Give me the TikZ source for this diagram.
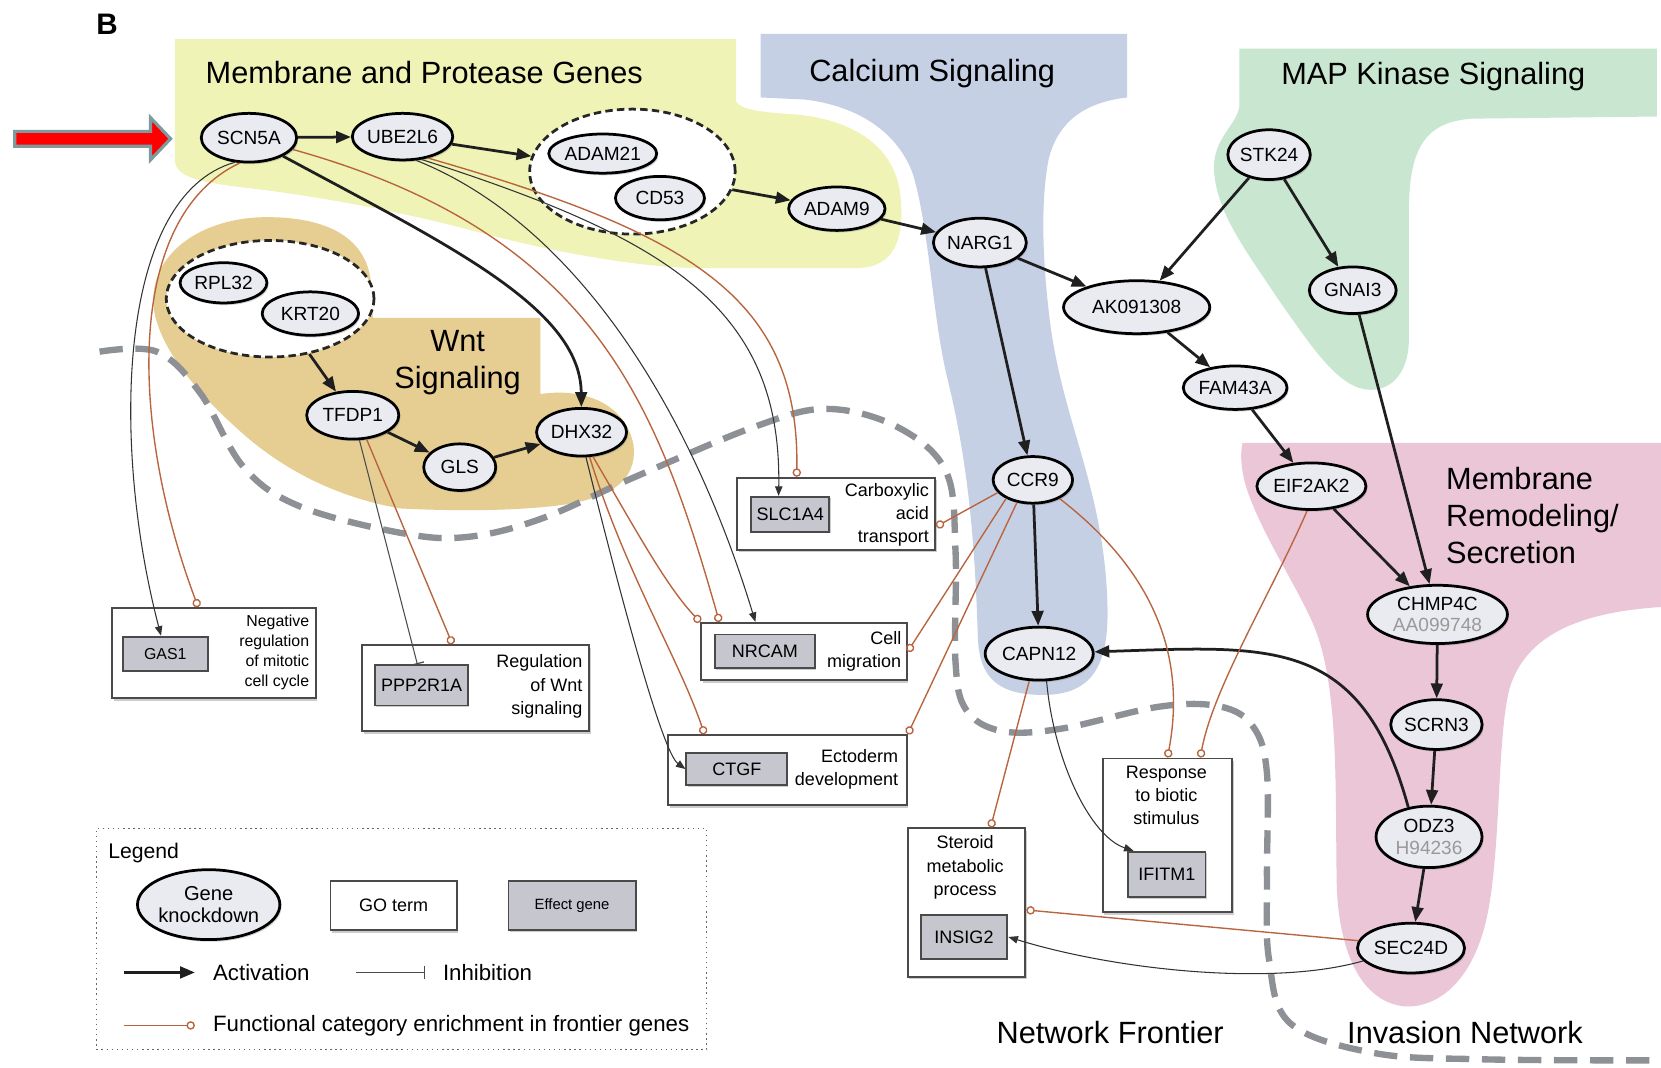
\documentclass[tikz,border=0pt]{standalone}
\usepackage{fontspec}
\setmainfont{Liberation Sans}
\usetikzlibrary{arrows.meta,shapes.geometric,shadows}
\definecolor{yellowreg}{HTML}{EFF3B6}
\definecolor{bluereg}{HTML}{C6D0E5}
\definecolor{greenreg}{HTML}{C9E6D0}
\definecolor{pinkreg}{HTML}{EBC6D6}
\definecolor{tanreg}{HTML}{E6CD92}
\definecolor{genefill}{HTML}{E9EBF1}
\definecolor{effgray}{HTML}{C5C6CE}
\definecolor{enrbrown}{HTML}{B9643F}
\definecolor{frontgray}{HTML}{8D9196}
\definecolor{arrowgray}{HTML}{7E9A9F}
\definecolor{boxline}{HTML}{4A4A4A}
\newcommand\genefont{\fontsize{18}{20}\selectfont}
\newcommand\regionfont{\fontsize{29}{35}\selectfont}
\newcommand\gofont{\fontsize{17}{22}\selectfont}
\newcommand\legfont{\fontsize{21}{24}\selectfont}
\begin{document}
\begin{tikzpicture}[x=1pt, y=-1pt,
  gene/.style 2 args={ellipse, draw=black, line width=2.6pt, fill=genefill, inner sep=0pt, align=center,
    minimum width=#1pt, minimum height=#2pt, font=\genefont,
    drop shadow={shadow xshift=1.5pt, shadow yshift=-2pt, opacity=.35}},
  group/.style 2 args={ellipse, draw=black!85, dash pattern=on 7pt off 4pt, line width=2.6pt, fill=white,
    minimum width=#1pt, minimum height=#2pt},
  effect/.style 2 args={rectangle, draw=boxline, line width=1.8pt, fill=effgray, inner sep=0pt,
    minimum width=#1pt, minimum height=#2pt, font=\gofont,
    drop shadow={shadow xshift=1pt, shadow yshift=-1.5pt, opacity=.4}},
  goterm/.style 2 args={rectangle, draw=boxline, line width=1.8pt, fill=white, inner sep=0pt,
    minimum width=#1pt, minimum height=#2pt,
    drop shadow={shadow xshift=1.5pt, shadow yshift=-2.5pt, opacity=.4}},
  gotext/.style={font=\gofont, inner sep=0pt},
  region/.style={font=\regionfont, inner sep=0pt},
  act/.style={draw=black!88, line width=2.6pt, -{Triangle[length=14pt, width=11pt]}},
  eff/.style={draw=black!80, line width=1pt, -{Triangle[length=9pt, width=7pt]}},
  inh/.style={draw=black!70, line width=1pt, -{Bar[width=13pt, line width=1.2pt]}},
  enr/.style={draw=enrbrown, line width=1.3pt, -{Circle[open, length=8pt, width=8pt, line width=1.3pt]}},
  frontier/.style={draw=frontgray, line width=6pt, dash pattern=on 22pt off 12pt}]

\fill[white] (0,0) rectangle (1568,1008);
\useasboundingbox (0,0) rectangle (1568,1008);

\fill[yellowreg] (165,37) -- (695,37) -- (695,96) .. controls (700,104) and (720,106) .. (750,108)
  .. controls (800,112) and (845,135) .. (850,185) .. controls (854,225) and (845,252) .. (810,253)
  -- (650,253) .. controls (580,250) and (500,232) .. (447,218) .. controls (380,200) and (300,185) .. (230,177)
  .. controls (190,172) and (165,168) .. (165,150) -- cycle;
\fill[bluereg] (718,32) -- (1064,32) -- (1064,92) .. controls (1030,96) and (1000,110) .. (990,150)
  .. controls (982,190) and (984,250) .. (992,310) .. controls (1005,400) and (1040,460) .. (1045,560)
  .. controls (1048,615) and (1040,656) .. (985,656) .. controls (942,656) and (924,640) .. (923,600)
  .. controls (920,500) and (912,430) .. (895,360) .. controls (880,300) and (878,220) .. (862,165)
  .. controls (848,125) and (810,100) .. (760,94) -- (718,92) -- cycle;
\fill[greenreg] (1170,46) -- (1564,46) -- (1564,110) -- (1390,112) .. controls (1345,115) and (1330,140) .. (1330,200)
  -- (1330,320) .. controls (1330,350) and (1315,368) .. (1294,368) .. controls (1265,368) and (1240,330) .. (1207,283)
  .. controls (1175,235) and (1148,200) .. (1146,160) .. controls (1145,130) and (1168,118) .. (1170,100) -- cycle;
\fill[pinkreg] (1173,418) -- (1568,418) -- (1568,573) .. controls (1490,578) and (1440,600) .. (1425,650)
  .. controls (1412,700) and (1418,820) .. (1400,880) .. controls (1385,930) and (1355,952) .. (1325,950)
  .. controls (1285,945) and (1265,900) .. (1262,840) .. controls (1260,750) and (1265,650) .. (1240,590)
  .. controls (1225,555) and (1195,510) .. (1180,470) .. controls (1172,450) and (1170,430) .. (1173,418) -- cycle;
\fill[tanreg] (145,290) .. controls (140,240) and (190,205) .. (252,205) .. controls (310,205) and (345,225) .. (350,265)
  -- (352,300) -- (510,300) -- (510,372) .. controls (550,366) and (590,380) .. (598,420)
  .. controls (602,455) and (575,472) .. (520,478) .. controls (470,483) and (420,482) .. (378,480)
  .. controls (320,470) and (270,445) .. (230,410) .. controls (190,375) and (150,330) .. (145,290) -- cycle;

\draw[frontier] plot[smooth, tension=.6] coordinates {(94,332) (148,332) (189,371) (230,441) (283,478) (378,503)
  (440,507) (510,490) (600,450) (712,403) (780,386) (847,403) (893,445) (902,520) (902,625) (912,670) (945,690)
  (1001,688) (1095,667) (1152,667) (1183,686) (1196,730) (1196,830) (1198,906) (1218,966) (1297,994) (1400,1000) (1568,1001)};

\node[font=\bfseries\fontsize{28}{30}\selectfont] (lblB) at (101,23) {B};
\filldraw[fill=red, draw=arrowgray, line width=3pt] (14,124) -- (142,124) -- (142,111) -- (161,131) -- (142,151) -- (142,138) -- (14,138) -- cycle;

\node[region, anchor=base west] (memprot) at (194,78.5) {Membrane and Protease Genes};
\node[region, anchor=base] (calcium) at (880,76.5) {Calcium Signaling};
\node[region, anchor=base] (mapk) at (1353,79.5) {MAP Kinase Signaling};
\node[region, align=center] (wnt) at (432,342) {Wnt\\Signaling};
\node[region, align=left, anchor=west] (memrem) at (1365,487) {Membrane\\Remodeling/\\Secretion};
\node[region, anchor=base] (frontlbl) at (1048,985.5) {Network Frontier};
\node[region, anchor=base] (invlbl) at (1383,985.5) {Invasion Network};

\node[goterm={192}{85}] (gasbox) at (202,616.5) {};
\node[effect={80}{32}, font=\fontsize{15}{18}\selectfont] (gas) at (156,617) {GAS1};
\node[gotext, font=\fontsize{15}{19}\selectfont, anchor=east, align=right] (gastx) at (292,616) {Negative\\regulation\\of mitotic\\cell cycle};
\node[goterm={214}{81}] (pppbox) at (449,649.5) {};
\node[effect={88}{38}] (ppp) at (398,647) {PPP2R1A};
\node[gotext, anchor=east, align=right] (ppptx) at (550,648) {Regulation\\of Wnt\\signaling};
\node[goterm={187}{68}] (slcbox) at (789.5,485) {};
\node[effect={74}{33}] (slc) at (746,485.5) {SLC1A4};
\node[gotext, anchor=east, align=right] (slctx) at (877,486) {Carboxylic\\acid\\transport};
\node[goterm={194}{54}] (nrbox) at (759,615) {};
\node[effect={94}{32}] (nrc) at (722,615) {NRCAM};
\node[gotext, anchor=east, align=right] (nrtx) at (851,615) {Cell\\migration};
\node[goterm={225}{66}] (ctbox) at (743.5,727) {};
\node[effect={95}{30}] (ctg) at (695.5,726) {CTGF};
\node[gotext, anchor=east, align=right] (cttx) at (848,726) {Ectoderm\\development};
\node[goterm={111}{140}] (stbox) at (912.5,852) {};
\node[effect={82}{41}] (ins) at (910,884.5) {INSIG2};
\node[gotext, align=center] (sttx) at (911,819) {Steroid\\metabolic\\process};
\node[goterm={122}{145}] (rsbox) at (1102,788.5) {};
\node[effect={73}{43}] (ifi) at (1101.5,825.5) {IFITM1};
\node[gotext, align=center] (rstx) at (1101,751) {Response\\to biotic\\stimulus};

\node[group={194}{118}] (grpA) at (597,162) {};
\node[group={196}{110}] (grpB) at (255,282) {};
\node[gene={90}{46}] (scn) at (235,130) {SCN5A};
\node[gene={93}{44}] (ube) at (380,129) {UBE2L6};
\node[gene={101}{37}] (adam21) at (569,145) {ADAM21};
\node[gene={84}{41}] (cd53) at (623,187) {CD53};
\node[gene={91}{41}] (adam9) at (790,197) {ADAM9};
\node[gene={87}{46}] (narg) at (925,229) {NARG1};
\node[gene={76}{47}] (stk) at (1198,146) {STK24};
\node[gene={138}{50}] (ak) at (1073,290) {AK091308};
\node[gene={82}{44}] (gnai) at (1277,274) {GNAI3};
\node[gene={98}{41}] (fam) at (1166,366) {FAM43A};
\node[gene={103}{44}] (eif) at (1238,459) {EIF2AK2};
\node[gene={132}{55}] (chmp) at (1357,580) {CHMP4C\\\textcolor{black!40}{AA099748}};
\node[gene={86}{47}] (scrn) at (1356,684) {SCRN3};
\node[gene={100}{58}] (odz) at (1349,790) {ODZ3\\\textcolor{black!40}{H94236}};
\node[gene={101}{47}] (sec) at (1332,895) {SEC24D};
\node[gene={75}{44}] (ccr) at (975,453) {CCR9};
\node[gene={102}{50}] (capn) at (981,617) {CAPN12};
\node[gene={82}{38}] (rpl) at (211,267) {RPL32};
\node[gene={91}{41}] (krt) at (293,296) {KRT20};
\node[gene={87}{45}] (tfdp) at (333,392) {TFDP1};
\node[gene={68}{44}] (gls) at (434,441) {GLS};
\node[gene={85}{45}] (dhx) at (549,408) {DHX32};

\draw[act] (scn) -- (ube);
\draw[act] (ube) -- (grpA);
\draw[act] (grpA) -- (adam9);
\draw[act] (adam9) -- (narg);
\draw[act] (narg) -- (ak);
\draw[act] (narg) -- (ccr);
\draw[act] (stk) -- (ak);
\draw[act] (stk) -- (gnai);
\draw[act] (ak) -- (fam);
\draw[act] (fam) -- (eif);
\draw[act] (eif) -- (chmp);
\draw[act] (gnai) -- (chmp);
\draw[act] (chmp) -- (scrn);
\draw[act] (scrn) -- (odz);
\draw[act] (odz) -- (sec);
\draw[act] (ccr) -- (capn);
\draw[act] (odz.125) .. controls (1285,600) and (1200,610) .. (capn);
\draw[act] (scn) .. controls (420,230) and (548,290) .. (dhx);
\draw[act] (grpB) -- (tfdp);
\draw[act] (tfdp) -- (gls);
\draw[act] (gls) -- (dhx);

\draw[eff] (scn.240) .. controls (110,185) and (105,420) .. ([xshift=-4pt]gas.north);
\draw[enr] (scn.250) .. controls (118,205) and (122,400) .. ([xshift=82pt]gasbox.north west);
\draw[eff] (ube.-60) .. controls (540,210) and (650,380) .. ([xshift=52pt]nrbox.north west);
\draw[enr] (scn.-15) .. controls (560,220) and (620,380) .. ([xshift=18pt]nrbox.north west);
\draw[eff] (ube.-50) .. controls (630,225) and (738,290) .. ([xshift=-11pt]slc.north);
\draw[enr] (ube.-40) .. controls (650,220) and (755,280) .. ([xshift=57pt]slcbox.north west);
\draw[inh] (tfdp.-75) -- ([xshift=-4pt]ppp.north);
\draw[enr] (tfdp.-60) -- ([xshift=86pt]pppbox.north west);
\draw[enr] (dhx.-65) .. controls (600,500) and (630,555) .. (nrbox.north west);
\draw[enr] (dhx.-72) .. controls (590,540) and (640,620) .. ([xshift=35pt]ctbox.north west);
\draw[eff] (dhx.-80) .. controls (585,560) and (625,710) .. (ctg.west);
\draw[enr] (ccr.200) -- ([yshift=-12pt]slcbox.east);
\draw[enr] (ccr.215) -- (nrbox.east);
\draw[enr] (ccr.235) -- (ctbox.north east);
\draw[enr] (ccr.-35) .. controls (1090,540) and (1120,620) .. ([xshift=62pt]rsbox.north west);
\draw[enr] (eif.-100) .. controls (1200,560) and (1145,650) .. ([xshift=93pt]rsbox.north west);
\draw[enr] (capn.-110) -- ([xshift=79pt]stbox.north west);
\draw[eff] (capn.-75) .. controls (995,720) and (1030,790) .. ([xshift=6pt]ifi.north west);
\draw[enr] (sec.172) -- ([yshift=-7pt]stbox.east);
\draw[eff] (sec.195) .. controls (1200,932) and (1050,915) .. (ins.east);

\node[draw=black!60, line width=1.3pt, dash pattern=on 1.3pt off 3.5pt, minimum width=576pt, minimum height=209pt] (legbox) at (379,886.5) {};
\node[font=\fontsize{20}{22}\selectfont, anchor=west, inner sep=0pt] (legtitle) at (102,805) {Legend};
\node[gene={134}{66}, font=\fontsize{19}{21}\selectfont] (legko) at (197,854) {Gene\\knockdown};
\node[goterm={119}{46}, font=\fontsize{17}{20}\selectfont] (leggo) at (371.5,855) {GO term};
\node[effect={120}{46}, font=\fontsize{14}{16}\selectfont] (legeff) at (540,855) {Effect gene};
\coordinate (actA) at (117,918);
\coordinate (actB) at (184,918);
\draw[act] (actA) -- (actB);
\node[font=\legfont, anchor=west, inner sep=0pt] (legact) at (201,918) {Activation};
\coordinate (inhA) at (336,918);
\coordinate (inhB) at (401,918);
\draw[inh] (inhA) -- (inhB);
\node[font=\legfont, anchor=west, inner sep=0pt] (leginh) at (418,918) {Inhibition};
\coordinate (enrA) at (117,968);
\coordinate (enrB) at (184,968);
\draw[enr] (enrA) -- (enrB);
\node[font=\legfont, anchor=west, inner sep=0pt] (legenr) at (201,968) {Functional category enrichment in frontier genes};
\end{tikzpicture}
\end{document}
